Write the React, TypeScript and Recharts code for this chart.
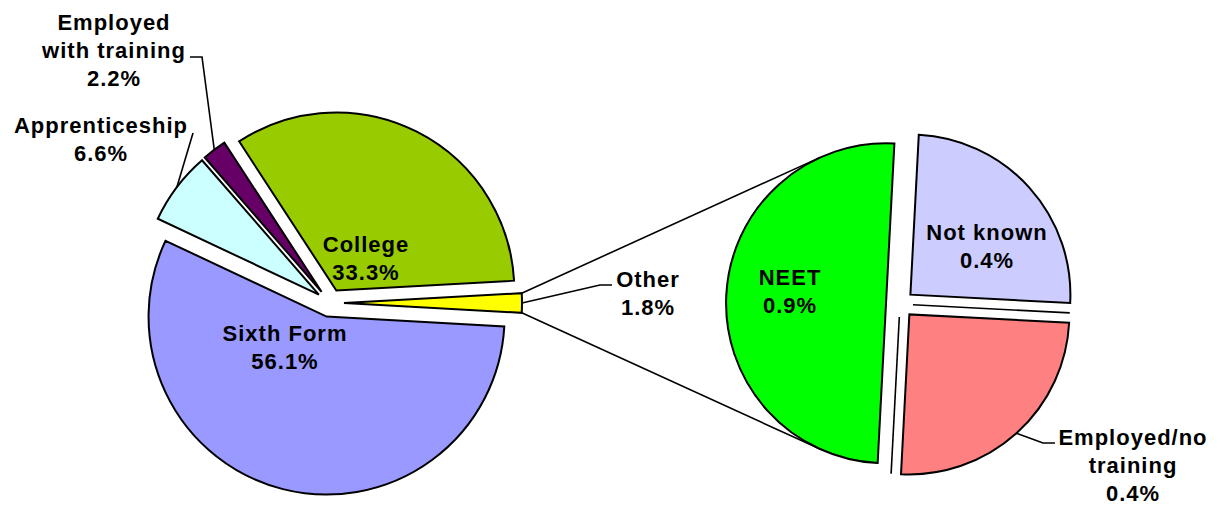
import { Cell, Customized, Pie, PieChart } from "recharts";

// left pie: "Other" goes first so it sits centred at 3 o'clock
const mainNames = ["Other", "Sixth Form", "Apprenticeship", "Employed\nwith training", "College"];
const mainValues = [1.76, 56.1, 6.6, 2.2, 33.3];
const mainColors = ["#ffff00", "#9999ff", "#ccffff", "#660066", "#99cc00"];

// right pie: breakdown of "Other"
const subNames = ["Not known", "Employed/no\ntraining", "NEET"];
const subValues = [0.44, 0.44, 0.88];
const subColors = ["#ccccff", "#ff8080", "#00ff00"];

const W = 1220;
const H = 507;
const MAIN = { cx: 330, cy: 303, r: 178 };
const SUB = { cx: 900, cy: 304, r: 160 };
const EXPLODE = 14;
const LINE_H = 28;
const RAD = Math.PI / 180;

type LabelSpec = { dx: number; dy: number; leader?: [number, number][] };

// label anchors relative to the (unexploded) pie centre: centre x, first baseline
const mainLabelSpecs: LabelSpec[] = [
  { dx: 318, dy: -16, leader: [[270, -18], [282, -18]] },
  { dx: -45, dy: 38 },
  { dx: -229, dy: -170, leader: [[-137, -170]] },
  { dx: -216, dy: -273, leader: [[-128, -246], [-140, -246]] },
  { dx: 36, dy: -51 },
];
const subLabelSpecs: LabelSpec[] = [
  { dx: 87, dy: -64 },
  { dx: 233, dy: 141, leader: [[143, 139], [155, 139]] },
  { dx: -110, dy: -19 },
];

const mainTotal = mainValues.reduce((a, b) => a + b, 0);
const subTotal = subValues.reduce((a, b) => a + b, 0);
const MAIN_START = (mainValues[0] / mainTotal) * 180;
const SUB_START = 87;

const mainData = mainNames.map((name, i) => ({ name, value: mainValues[i] }));
const subData = subNames.map((name, i) => ({ name, value: subValues[i] }));

function midAngles(values: number[], total: number, start: number) {
  let acc = 0;
  return values.map((v) => {
    const mid = start - ((acc + v / 2) / total) * 360;
    acc += v;
    return mid;
  });
}

const mainMids = midAngles(mainValues, mainTotal, MAIN_START);
const subMids = midAngles(subValues, subTotal, SUB_START);

const polar = (cx: number, cy: number, r: number, deg: number) => [
  cx + r * Math.cos(-deg * RAD),
  cy + r * Math.sin(-deg * RAD),
];

const textStyle = {
  fontFamily: "'Liberation Sans', Arial, sans-serif",
  fontWeight: 700,
  fontSize: 22,
  letterSpacing: 1,
};

function makeLabel(
  idx: number,
  spec: LabelSpec,
  center: { cx: number; cy: number },
  name: string,
  value: number
) {
  return (props: any) => {
    if (props.index !== idx) return null;
    const [ax, ay] = polar(props.cx, props.cy, props.outerRadius, props.midAngle);
    const x = center.cx + spec.dx;
    const y = center.cy + spec.dy;
    const lines = [...name.split("\n"), `${value.toFixed(1)}%`];
    return (
      <g>
        {spec.leader && (
          <polyline
            points={[[ax, ay], ...spec.leader.map(([px, py]) => [center.cx + px, center.cy + py])]
              .map((p) => p.join(","))
              .join(" ")}
            fill="none"
            stroke="#000"
            strokeWidth={1.6}
          />
        )}
        <text x={x} y={y} textAnchor="middle" fill="#000" style={textStyle}>
          {lines.map((l, k) => (
            <tspan key={k} x={x} dy={k === 0 ? 0 : LINE_H}>
              {l}
            </tspan>
          ))}
        </text>
      </g>
    );
  };
}

// tangent points from p onto the circle (c, r); returns [upper, lower]
function tangents(p: number[], c: number[], r: number) {
  const dx = p[0] - c[0];
  const dy = p[1] - c[1];
  const d = Math.hypot(dx, dy);
  const base = Math.atan2(dy, dx);
  const alpha = Math.acos(r / d);
  const a = [c[0] + r * Math.cos(base + alpha), c[1] + r * Math.sin(base + alpha)];
  const b = [c[0] + r * Math.cos(base - alpha), c[1] + r * Math.sin(base - alpha)];
  return a[1] < b[1] ? [a, b] : [b, a];
}

function SeriesLines() {
  const otherMid = mainMids[0];
  const [apx, apy] = polar(MAIN.cx, MAIN.cy, EXPLODE, otherMid);
  const top = polar(apx, apy, MAIN.r, otherMid + MAIN_START);
  const bot = polar(apx, apy, MAIN.r, otherMid - MAIN_START);
  const neetIdx = subNames.indexOf("NEET");
  const neetApex = polar(SUB.cx, SUB.cy, EXPLODE, subMids[neetIdx]);
  const topEnd = tangents(top, neetApex, SUB.r)[0];
  const botEnd = tangents(bot, neetApex, SUB.r)[1];
  // boundary ticks of the "Employed/no training" slice, seen in the gaps
  const b1 = SUB_START - (subValues[0] / subTotal) * 360;
  const b2 = b1 - (subValues[1] / subTotal) * 360;
  const tick = (ang: number) => {
    const [x1, y1] = polar(SUB.cx, SUB.cy, 13, ang);
    const [x2, y2] = polar(SUB.cx, SUB.cy, SUB.r + 10, ang);
    return <line key={ang} x1={x1} y1={y1} x2={x2} y2={y2} stroke="#000" strokeWidth={1.6} />;
  };
  return (
    <g>
      <line x1={top[0]} y1={top[1]} x2={topEnd[0]} y2={topEnd[1]} stroke="#000" strokeWidth={1.6} />
      <line x1={bot[0]} y1={bot[1]} x2={botEnd[0]} y2={botEnd[1]} stroke="#000" strokeWidth={1.6} />
      {tick(b1)}
      {tick(b2)}
    </g>
  );
}

export default function App() {
  return (
    <div style={{ position: "absolute", left: 0, top: 0, width: W, height: H, background: "#fff" }}>
      <PieChart width={W} height={H} margin={{ top: 0, right: 0, bottom: 0, left: 0 }}>
        <Customized component={SeriesLines} />
        {mainData.map((d, i) => {
          const [cx, cy] = polar(MAIN.cx, MAIN.cy, EXPLODE, mainMids[i]);
          return (
            <Pie
              key={`main-${d.name}`}
              data={mainData}
              dataKey="value"
              nameKey="name"
              cx={cx}
              cy={cy}
              outerRadius={MAIN.r}
              innerRadius={0}
              startAngle={MAIN_START}
              endAngle={MAIN_START - 360}
              isAnimationActive={false}
              labelLine={false}
              label={makeLabel(i, mainLabelSpecs[i], MAIN, d.name, d.value)}
            >
              {mainData.map((_, k) => (
                <Cell
                  key={k}
                  fill={k === i ? mainColors[k] : "none"}
                  stroke={k === i ? "#000" : "none"}
                  strokeWidth={2}
                />
              ))}
            </Pie>
          );
        })}
        {subData.map((d, i) => {
          const [cx, cy] = polar(SUB.cx, SUB.cy, EXPLODE, subMids[i]);
          return (
            <Pie
              key={`sub-${d.name}`}
              data={subData}
              dataKey="value"
              nameKey="name"
              cx={cx}
              cy={cy}
              outerRadius={SUB.r}
              innerRadius={0}
              startAngle={SUB_START}
              endAngle={SUB_START - 360}
              isAnimationActive={false}
              labelLine={false}
              label={makeLabel(i, subLabelSpecs[i], SUB, d.name, d.value)}
            >
              {subData.map((_, k) => (
                <Cell
                  key={k}
                  fill={k === i ? subColors[k] : "none"}
                  stroke={k === i ? "#000" : "none"}
                  strokeWidth={2}
                />
              ))}
            </Pie>
          );
        })}
      </PieChart>
    </div>
  );
}
